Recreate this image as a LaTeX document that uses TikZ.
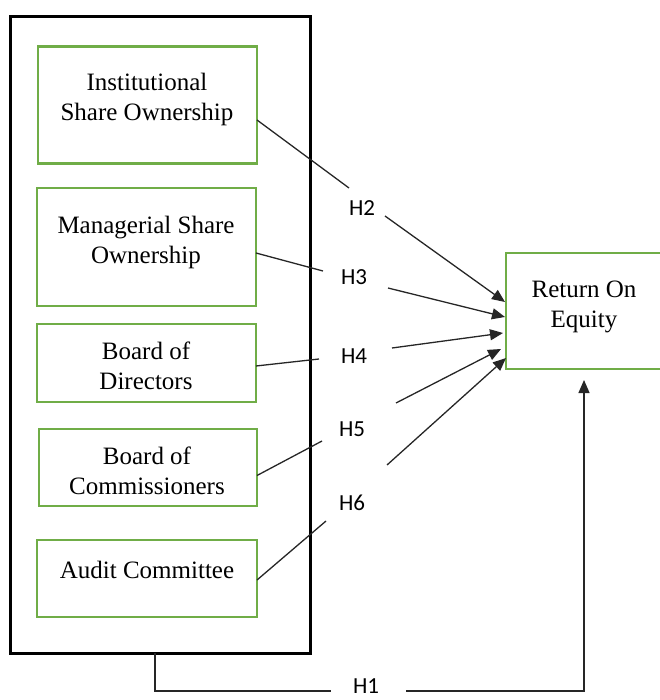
\documentclass[tikz,border=0pt]{standalone}
\usepackage{fontspec}
\setmainfont{Liberation Serif}
\newfontfamily\hypfont{Carlito}
\usetikzlibrary{arrows.meta}
\definecolor{boxgreen}{RGB}{112,173,71}

\begin{document}
\begin{tikzpicture}[x=1pt,y=-1pt,
  frame/.style={draw=black,line width=3pt,inner sep=0pt,outer sep=0pt},
  varbox/.style={draw=boxgreen,line width=2.6pt,inner sep=0pt,outer sep=0pt},
  varlabel/.style={align=center,inner sep=0pt,font=\fontsize{25}{30}\selectfont},
  hyp/.style={inner sep=0pt,font=\hypfont\fontsize{23}{28}\selectfont},
  link/.style={draw=black!85,line width=1.3pt},
  arrowlink/.style={link,-{Triangle[length=13pt,width=11pt]}}]

\useasboundingbox (0,0) rectangle (659,700);

% outer frame grouping the governance variables
\node[frame,minimum width=300pt,minimum height=636pt] (grp) at (160,335) {};

% independent variables
\node[varbox,minimum width=219pt,minimum height=117pt] (b1) at (147.5,105) {};
\node[varbox,minimum width=219pt,minimum height=118pt] (b2) at (146.5,247) {};
\node[varbox,minimum width=219pt,minimum height=78pt]  (b3) at (146.5,363) {};
\node[varbox,minimum width=218pt,minimum height=77pt]  (b4) at (148,467.5) {};
\node[varbox,minimum width=220pt,minimum height=77pt]  (b5) at (147,578.5) {};

\node[varlabel] (t1) at (147,99)  {Institutional\\Share Ownership};
\node[varlabel] (t2) at (146,242) {Managerial Share\\Ownership};
\node[varlabel] (t3) at (146,366) {Board of\\Directors};
\node[varlabel] (t4) at (147,471) {Board of\\Commissioners};
\node[varlabel] (t5) at (147,570) {Audit Committee};

% dependent variable
\node[varbox,minimum width=156pt,minimum height=116pt] (roe) at (584,311) {};
\node[varlabel] (t6) at (584,307) {Return On\\Equity};

% hypothesis labels
\node[hyp] (h2) at (362,208) {H2};
\node[hyp] (h3) at (354,277) {H3};
\node[hyp] (h4) at (354,356) {H4};
\node[hyp] (h5) at (352,429) {H5};
\node[hyp] (h6) at (352,503) {H6};
\node[hyp] (h1) at (366,686) {H1};

% break points of the hypothesis links around their labels
\coordinate (h2a) at (349,188); \coordinate (h2b) at (385,216);
\coordinate (h3a) at (323,271); \coordinate (h3b) at (388,288);
\coordinate (h4a) at (319,359); \coordinate (h4b) at (392,348);
\coordinate (h5a) at (322,441); \coordinate (h5b) at (396,403);
\coordinate (h6a) at (326,521); \coordinate (h6b) at (387,465);
\coordinate (h1a) at (155,691); \coordinate (h1b) at (331,691);
\coordinate (h1c) at (406,691);

% H2 to H6
\draw[link] ([yshift=-15pt]b1.east) -- (h2a);
\draw[arrowlink] (h2b) -- ([xshift=-1pt,yshift=9pt]roe.west);
\draw[link] ([yshift=-6pt]b2.east) -- (h3a);
\draw[arrowlink] (h3b) -- ([xshift=-1pt,yshift=-6pt]roe.west);
\draw[link] ([yshift=-3pt]b3.east) -- (h4a);
\draw[arrowlink] (h4b) -- ([xshift=-3pt,yshift=-22pt]roe.west);
\draw[link] ([yshift=-8pt]b4.east) -- (h5a);
\draw[arrowlink] (h5b) -- ([xshift=-5pt,yshift=-38pt]roe.west);
\draw[link] ([yshift=-1.5pt]b5.east) -- (h6a);
\draw[arrowlink] (h6b) -- ([xshift=0pt,yshift=-47pt]roe.west);

% H1: the whole group to return on equity
\draw[link] ([xshift=-5pt]grp.south) -- (h1a) -- (h1b);
\draw[arrowlink] (h1c) -| ([yshift=-11pt]roe.south);

\end{tikzpicture}
\end{document}
